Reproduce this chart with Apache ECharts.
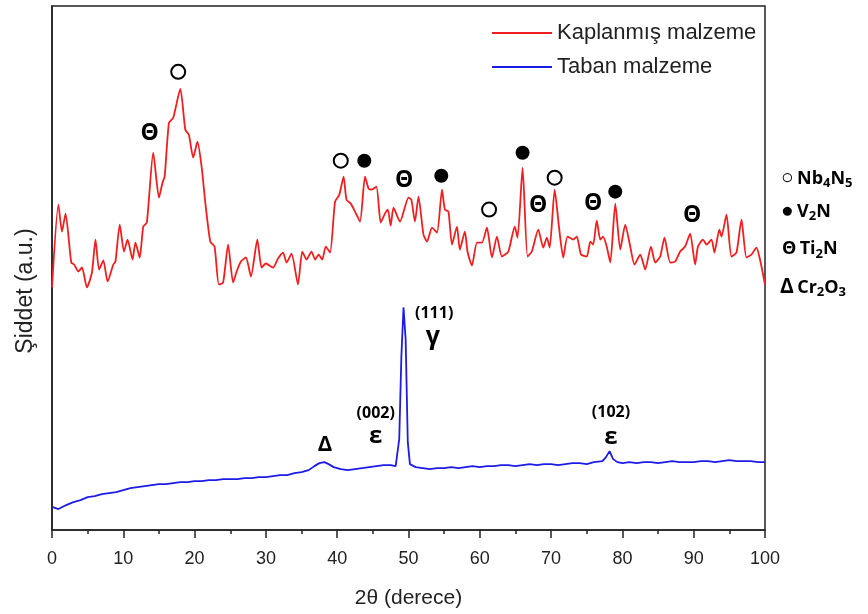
<!DOCTYPE html>
<html>
<head>
<meta charset="utf-8">
<script src="https://cdn.jsdelivr.net/npm/echarts@6/dist/echarts.min.js"></script>
<style>
  html, body { margin: 0; padding: 0; background: #fff; }
  #xrdChart { width: 868px; height: 614px; }
</style>
</head>
<body>
<div id="xrdChart"></div>
<script>
"use strict";

// kaplanmis malzeme (red)
var red2theta = [0, 0.9, 1.4, 1.9, 2.7, 3.1, 3.7, 4.2, 4.9, 5.6, 6.1, 6.6, 7.2, 7.8, 8.6, 8.9, 9.5, 10.1, 10.6, 11.3,
  11.7, 12.3, 12.8, 13.3, 14.2, 15.0, 15.5, 15.8, 16.4, 17.0, 18.0, 18.7, 19.2, 19.8, 20.4, 21.0, 21.5, 22.2, 22.8, 23.4,
  24.0, 24.7, 25.4, 25.9, 26.5, 27.2, 27.9, 28.8, 29.4, 30.0, 31.0, 31.7, 32.4, 32.9, 33.6, 34.5, 35.1, 35.7, 36.4, 36.9,
  37.4, 37.9, 38.4, 39.0, 39.7, 40.3, 40.9, 41.3, 41.9, 42.5, 43.2, 43.9, 44.4, 44.8, 45.5, 46.1, 46.7, 47.1, 47.5, 47.9,
  48.8, 50.0, 50.4, 50.9, 51.4, 52.1, 52.6, 53.3, 54.0, 54.7, 55.1, 55.6, 56.1, 56.8, 57.2, 57.9, 58.3, 58.9, 59.6, 60.3,
  61.0, 61.7, 62.4, 63.1, 64.0, 64.9, 65.3, 66.0, 66.7, 67.3, 68.2, 68.9, 69.4, 69.8, 70.5, 71.1, 71.7, 72.3, 73.1, 73.6,
  74.2, 75.0, 75.5, 75.9, 76.4, 76.9, 77.3, 77.8, 78.3, 79.0, 79.7, 80.4, 81.1, 81.7, 82.5, 83.2, 84.0, 84.6, 85.3, 85.9,
  86.7, 87.4, 88.1, 88.8, 89.5, 90.2, 90.6, 91.3, 91.8, 92.5, 92.9, 93.6, 93.9, 94.6, 95.3, 96.0, 96.7, 97.4, 98.1, 98.8,
  99.3, 100];
var redIntensity = [243, 326, 299, 317, 268, 266, 259, 263, 243, 258, 291, 261, 270, 249, 266, 269, 306, 279, 291, 271,
  288, 273, 304, 308, 378, 333, 348, 354, 408, 413, 442, 401, 396, 373, 389, 363, 328, 289, 284, 246,
  248, 286, 248, 259, 269, 273, 254, 291, 263, 267, 263, 272, 278, 268, 277, 246, 279, 271, 279, 271,
  276, 271, 284, 278, 329, 336, 354, 331, 327, 319, 309, 354, 342, 341, 344, 308, 317, 321, 305, 323,
  309, 333, 331, 309, 334, 296, 289, 303, 298, 341, 321, 319, 286, 304, 281, 299, 278, 265, 288, 288,
  303, 273, 294, 274, 279, 304, 293, 363, 274, 279, 301, 283, 293, 283, 341, 304, 273, 294, 291, 294,
  276, 274, 289, 286, 310, 291, 294, 284, 268, 327, 281, 306, 284, 266, 276, 261, 284, 268, 274, 293,
  268, 269, 279, 284, 297, 266, 284, 291, 286, 291, 278, 301, 294, 316, 274, 278, 311, 273, 276, 283,
  271, 246];

// taban malzeme (blue)
var blue2theta = [0.1, 0.9, 2, 3, 4, 5, 6, 7, 8, 9, 10, 11, 12, 13, 14, 15, 16, 17, 18, 19,
  20, 21, 22, 23, 24, 25, 26, 27, 28, 29, 30, 31, 32, 33, 34, 35, 36, 36.8, 37.5, 38.2,
  38.8, 39.5, 40.5, 41.5, 42.5, 43.5, 44.5, 45.5, 46.5, 47.5, 48.2, 48.7, 49.0, 49.3, 49.6, 49.9, 50.2, 51, 52, 53,
  54, 55, 56, 57, 58, 59, 60, 61, 62, 63, 64, 65, 66, 67, 68, 69, 70, 71, 72, 73,
  74, 75, 76, 77.2, 77.7, 78.2, 78.7, 79.3, 80, 81, 82, 83, 84, 85, 86, 87, 88, 89, 90, 91,
  92, 93, 94, 95, 96, 97, 98, 99, 100];
var blueIntensity = [23, 21, 25, 28, 30, 33, 34, 36, 37, 38, 40, 42, 43, 44, 45, 46, 46, 47, 48, 48,
  49, 49, 50, 50, 51, 51, 51, 52, 52, 53, 53, 54, 55, 55, 57, 58, 60, 64, 67, 68,
  66, 63, 61, 60, 61, 62, 63, 64, 65, 65, 64, 91, 174, 223, 191, 88, 66, 63, 62, 61,
  62, 62, 63, 62, 63, 64, 63, 64, 64, 65, 65, 64, 65, 66, 65, 66, 66, 65, 66, 67,
  67, 66, 68, 69, 73, 79, 71, 68, 67, 68, 67, 68, 68, 67, 68, 69, 68, 68, 68, 69,
  69, 68, 69, 70, 69, 69, 69, 68, 68];

// faz isaretleri
var nbPeaks = [[17.7, 459], [40.5, 370], [61.3, 321], [70.5, 353]];
var v2nPeaks = [[43.8, 370], [54.6, 355], [66.0, 378], [79.0, 339]];
var ti2nPeaks = [[13.7, 397], [49.4, 350], [68.2, 325], [75.9, 327], [89.8, 315]];
var baseLabels = [
  { value: [38.3, 85], text: 'Δ', size: 22 },
  { value: [45.4, 117], text: '(002)', size: 16 },
  { value: [45.4, 94], text: 'ε', size: 24 },
  { value: [53.6, 217], text: '(111)', size: 16 },
  { value: [53.4, 193], text: 'γ', size: 25 },
  { value: [78.4, 118], text: '(102)', size: 16 },
  { value: [78.4, 93], text: 'ε', size: 24 }
];
var xTicks = [0, 10, 20, 30, 40, 50, 60, 70, 80, 90, 100];

function zip(xs, ys) {
  var out = [];
  for (var i = 0; i < xs.length; i++) out.push([xs[i], ys[i]]);
  return out;
}

var chart = echarts.init(document.getElementById('xrdChart'));
var axisFont = "'Liberation Sans', Arial, sans-serif";
var boldFont = "'Open Sans', 'Noto Sans', sans-serif";

function keyText(top, left, text, symSize) {
  return {
    type: 'text', left: left, top: top,
    style: {
      text: text,
      rich: {
        s: { fontSize: symSize, fontWeight: 'bold', fontFamily: boldFont, fill: '#000' },
        t: { fontSize: 18, fontWeight: 'bold', fontFamily: boldFont, fill: '#000' },
        sub: { fontSize: 13, fontWeight: 'bold', fontFamily: boldFont, fill: '#000', padding: [10, 0, 0, 0] }
      }
    }
  };
}

var option = {
  backgroundColor: '#fff',
  animation: false,
  grid: {
    left: 52, right: 103, top: 6, bottom: 83,
    show: true, borderColor: '#222', borderWidth: 1.5
  },
  legend: {
    data: ['Kaplanmış malzeme', 'Taban malzeme'],
    orient: 'vertical',
    left: 487, top: 16,
    icon: 'rect', itemWidth: 60, itemHeight: 2, itemGap: 10,
    textStyle: { fontFamily: axisFont, fontSize: 22, color: '#222', lineHeight: 24 }
  },
  xAxis: {
    type: 'value', min: 0, max: 100, interval: 10,
    name: '2θ (derece)', nameLocation: 'middle', nameGap: 58,
    nameTextStyle: { fontFamily: axisFont, fontSize: 21, color: '#222' },
    axisLine: { lineStyle: { color: '#222', width: 1.5 } },
    axisTick: { length: 8, lineStyle: { color: '#222', width: 1.5 } },
    minorTick: { show: true, splitNumber: 2, length: 4, lineStyle: { color: '#222', width: 1.5 } },
    axisLabel: {
      fontFamily: axisFont, fontSize: 18, color: '#222', margin: 20,
      formatter: function (v) { return xTicks.indexOf(v) >= 0 ? String(v) : ''; }
    },
    splitLine: { show: false }
  },
  yAxis: {
    type: 'value', min: 0, max: 525,
    name: 'Şiddet (a.u.)', nameLocation: 'middle', nameGap: 15, nameRotate: 90,
    nameTextStyle: { fontFamily: axisFont, fontSize: 23, color: '#222', padding: [0, 46, 0, 0] },
    axisLine: { show: true, lineStyle: { color: '#222', width: 1.5 } },
    axisTick: { show: false },
    axisLabel: { show: false },
    splitLine: { show: false }
  },
  series: [
    {
      name: 'Kaplanmış malzeme', type: 'line', data: zip(red2theta, redIntensity),
      showSymbol: false, smooth: 0.2,
      lineStyle: { color: '#f01e1e', width: 1.8 }, itemStyle: { color: '#f01e1e' }, z: 3
    },
    {
      name: 'Taban malzeme', type: 'line', data: zip(blue2theta, blueIntensity),
      showSymbol: false,
      lineStyle: { color: '#1c1ce6', width: 1.8 }, itemStyle: { color: '#1c1ce6' }, z: 3
    },
    {
      name: 'Nb4N5', type: 'scatter', data: nbPeaks, symbol: 'circle', symbolSize: 14,
      itemStyle: { color: '#fff', borderColor: '#000', borderWidth: 2, opacity: 1 }, z: 5
    },
    {
      name: 'V2N', type: 'scatter', data: v2nPeaks, symbol: 'circle', symbolSize: 14,
      itemStyle: { color: '#000', borderWidth: 0, opacity: 1 }, z: 5
    },
    {
      name: 'Ti2N', type: 'scatter', data: ti2nPeaks, symbolSize: 0,
      itemStyle: { opacity: 1 },
      label: {
        show: true, position: 'inside', formatter: 'Θ',
        fontFamily: boldFont, fontWeight: 'bold', fontSize: 23, color: '#000'
      }, z: 5
    },
    {
      name: 'base', type: 'scatter', symbolSize: 0,
      itemStyle: { opacity: 1 },
      data: baseLabels.map(function (d) {
        return {
          value: d.value,
          label: {
            show: true, position: 'inside', formatter: d.text,
            fontFamily: boldFont, fontWeight: 'bold', fontSize: d.size, color: '#000'
          }
        };
      }), z: 5
    }
  ],
  graphic: [
    keyText(168, 781, '{s|○} {t|Nb}{sub|4}{t|N}{sub|5}', 21),
    keyText(201, 781, '{s|●} {t|V}{sub|2}{t|N}', 21),
    keyText(240, 782, '{s|Θ} {t|Ti}{sub|2}{t|N}', 18),
    keyText(277, 780, '{s|Δ} {t|Cr}{sub|2}{t|O}{sub|3}', 21)
  ]
};

chart.setOption(option);
</script>
</body>
</html>
